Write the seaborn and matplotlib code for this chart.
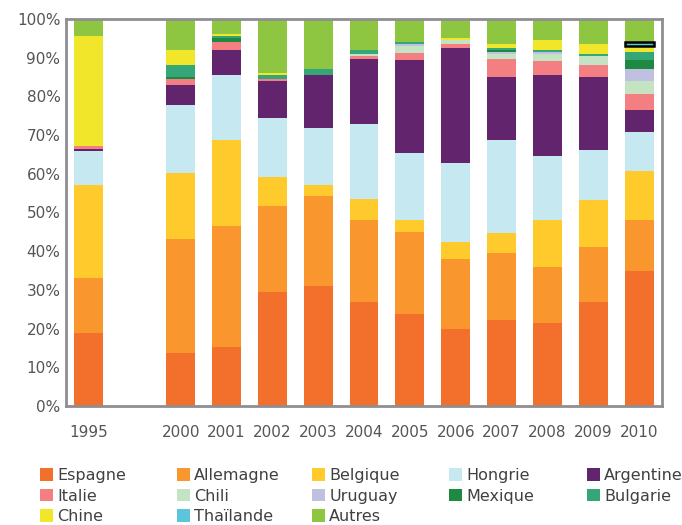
import matplotlib
matplotlib.use("Agg")
import matplotlib.pyplot as plt
from matplotlib.patches import Patch
import seaborn as sns
import pandas as pd

sns.set_theme(style="white")
plt.rcParams['font.family'] = ['Liberation Sans Narrow', 'DejaVu Sans']

years = ["1995", "2000", "2001", "2002", "2003", "2004", "2005",
         "2006", "2007", "2008", "2009", "2010"]
order = ["1995", " ", "2000", "2001", "2002", "2003", "2004", "2005",
         "2006", "2007", "2008", "2009", "2010"]

Espagne   = [19.0, 13.7, 15.2, 29.5, 31.0, 26.9, 23.8, 19.9, 22.2, 21.4, 26.9, 34.9]
Allemagne = [14.2, 29.5, 31.3, 22.2, 23.3, 21.2, 21.2, 18.1, 17.3, 14.5, 14.2, 13.2]
Belgique  = [24.0, 17.0, 22.2, 7.5, 2.8, 5.4, 3.1, 4.4, 5.2, 12.1, 12.1, 12.7]
Hongrie   = [8.8, 17.6, 16.8, 15.2, 14.7, 19.4, 17.3, 20.4, 24.0, 16.5, 12.9, 10.1]
Argentine = [0.5, 5.2, 6.5, 9.6, 13.7, 16.8, 23.8, 29.7, 16.3, 20.9, 18.9, 5.7]
Italie    = [0.8, 1.5, 2.0, 0.5, 0.0, 0.8, 1.8, 1.0, 4.7, 3.6, 3.1, 3.9]
Chili     = [0.0, 0.0, 0.0, 0.0, 0.0, 0.5, 2.0, 1.0, 1.3, 1.8, 2.3, 3.6]
Uruguay   = [0.0, 0.0, 0.0, 0.0, 0.0, 0.0, 0.5, 0.0, 0.5, 0.5, 0.0, 3.1]
Mexique   = [0.0, 0.5, 1.0, 0.0, 0.0, 0.0, 0.0, 0.0, 0.5, 0.0, 0.0, 2.1]
Bulgarie  = [0.0, 3.1, 0.5, 1.0, 1.5, 1.0, 0.5, 0.0, 0.5, 0.5, 0.5, 2.3]
Chine     = [28.4, 3.9, 0.5, 0.5, 0.0, 0.0, 0.0, 0.5, 1.0, 2.6, 2.6, 1.5]
Thailande = [0.0, 0.0, 0.0, 0.0, 0.0, 0.0, 0.0, 0.0, 0.0, 0.0, 0.0, 1.0]
Autres    = [4.4, 8.0, 3.9, 14.0, 12.9, 8.0, 5.9, 4.9, 6.5, 5.4, 6.5, 5.9]

series_names = ["Espagne", "Allemagne", "Belgique", "Hongrie", "Argentine",
                "Italie", "Chili", "Uruguay", "Mexique", "Bulgarie",
                "Chine", "Thaïlande", "Autres"]
series_values = [Espagne, Allemagne, Belgique, Hongrie, Argentine, Italie,
                 Chili, Uruguay, Mexique, Bulgarie, Chine, Thailande, Autres]
colors = {
    "Espagne": "#F26F2C", "Allemagne": "#F9962D", "Belgique": "#FFCA2C",
    "Hongrie": "#C6E8F0", "Argentine": "#62246C", "Italie": "#F47F82",
    "Chili": "#C4E3C3", "Uruguay": "#C0C0E0", "Mexique": "#1E8A41",
    "Bulgarie": "#34A678", "Chine": "#F1E62A", "Thaïlande": "#5BC5DC",
    "Autres": "#8EC641",
}

df = pd.DataFrame(dict(zip(series_names, series_values)), index=years)
df = df.div(df.sum(axis=1), axis=0) * 100
cum = df.cumsum(axis=1)

fig = plt.figure(figsize=(6.82, 5.25), dpi=100)
ax = fig.add_axes([0.0968, 0.2267, 0.8739, 0.7371])

layer_patches = {}
for name in reversed(series_names):
    d = pd.DataFrame({"year": years, "value": cum[name].values})
    n0 = len(ax.patches)
    sns.barplot(data=d, x="year", y="value", order=order, color=colors[name],
                width=0.63, saturation=1, errorbar=None, ax=ax,
                edgecolor="none", linewidth=0)
    layer_patches[name] = list(ax.patches[n0:])

# highlighted Thaïlande segment in 2010 (outlined)
thai = [p for p in layer_patches["Thaïlande"] if p.get_height() == p.get_height()]
tp = max(thai, key=lambda p: p.get_x())
tp.set_y(cum["Chine"]["2010"])
tp.set_height(df["Thaïlande"]["2010"])
tp.set_edgecolor("black")
tp.set_linewidth(1.8)
tp.set_zorder(5)

ax.set_ylim(0, 100)
ax.set_yticks(range(0, 101, 10))
ax.set_yticklabels([f"{v}%" for v in range(0, 101, 10)])
ax.set_xlabel("")
ax.set_ylabel("")
ax.tick_params(axis="both", length=0, labelsize=11, colors="#555555")
ax.tick_params(axis="x", pad=14)
ax.tick_params(axis="y", pad=4)
for s in ax.spines.values():
    s.set_visible(True)
    s.set_color("#8e8e93")
    s.set_linewidth(2)

handles = {n: Patch(facecolor=colors[n], edgecolor="none") for n in series_names}
legend_cols = [["Espagne", "Italie", "Chine"],
               ["Allemagne", "Chili", "Thaïlande"],
               ["Belgique", "Uruguay", "Autres"],
               ["Hongrie", "Mexique"],
               ["Argentine", "Bulgarie"]]
col_x = [0.058, 0.259, 0.457, 0.658, 0.860]
for cx, names in zip(col_x, legend_cols):
    leg = fig.legend([handles[n] for n in names], names, ncol=1,
                     loc="upper left", bbox_to_anchor=(cx, 0.109),
                     frameon=False, fontsize=11.5, handlelength=0.85,
                     handleheight=0.85, handletextpad=0.25,
                     labelspacing=0.36, borderaxespad=0, borderpad=0)
    for t in leg.get_texts():
        t.set_color("#404040")

fig.savefig("out.png", dpi=100)
